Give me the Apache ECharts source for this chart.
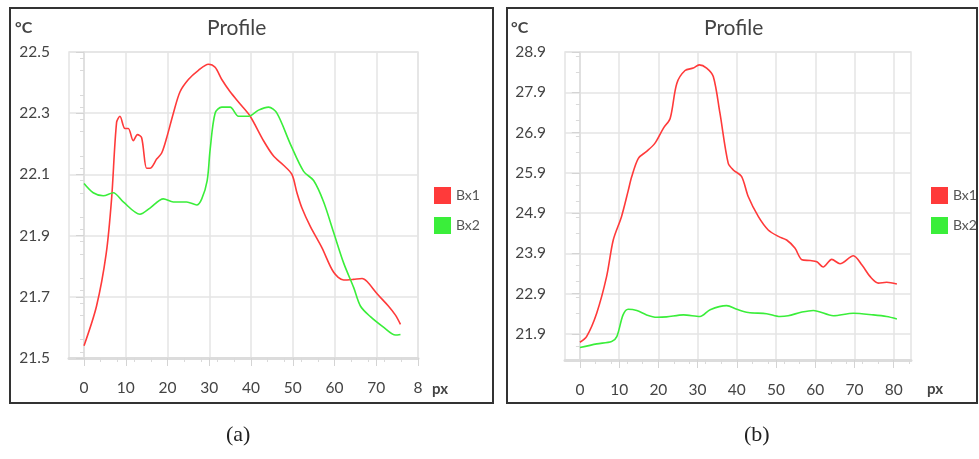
<!DOCTYPE html>
<html>
<head>
<meta charset="utf-8">
<script src="https://cdn.jsdelivr.net/npm/echarts@6/dist/echarts.min.js"></script>
<style>
html, body { margin: 0; background: #fff; }
#main { width: 979px; height: 459px; }
</style>
</head>
<body>
<div id="main"></div>
<script>
// panel (a)
var bx1XA = [0, 3.0, 5.3, 6.6, 7.8, 8.6, 9.8, 10.6, 11.8, 12.8, 13.8, 15.0, 15.8, 17.4, 18.6, 19.8, 21.4, 23.0, 25.0, 27.4, 29.8, 31.4, 33.0, 35.0, 37.4, 39.8, 43.0, 45.4, 47.8, 49.8, 51.0, 52.2, 54.2, 57.0, 59.8, 62.2, 64.5, 66.6, 67.8, 70.2, 72.9, 74.6, 75.8];
var bx1YA = [21.54, 21.67, 21.84, 22.02, 22.27, 22.29, 22.25, 22.25, 22.21, 22.23, 22.22, 22.12, 22.12, 22.15, 22.17, 22.22, 22.30, 22.37, 22.41, 22.44, 22.46, 22.45, 22.41, 22.37, 22.33, 22.29, 22.21, 22.16, 22.13, 22.10, 22.04, 21.99, 21.93, 21.86, 21.78, 21.755, 21.757, 21.76, 21.75, 21.71, 21.67, 21.64, 21.61];
var bx2XA = [0, 2.2, 4.6, 7.0, 9.4, 13.4, 15.8, 19.0, 21.4, 24.6, 27.0, 28.2, 29.5, 30.2, 31.4, 33.0, 35.0, 37.0, 39.4, 41.8, 44.2, 46.2, 49.4, 52.6, 55.0, 57.4, 59.8, 62.2, 64.6, 66.2, 68.6, 71.8, 74.6, 75.8];
var bx2YA = [22.07, 22.04, 22.03, 22.04, 22.01, 21.97, 21.99, 22.02, 22.01, 22.01, 22.00, 22.02, 22.08, 22.18, 22.30, 22.32, 22.32, 22.29, 22.29, 22.31, 22.32, 22.30, 22.20, 22.11, 22.08, 22.01, 21.91, 21.81, 21.73, 21.67, 21.635, 21.60, 21.575, 21.577];
var xTicksA = [0, 10, 20, 30, 40, 50, 60, 70, 80];
var xTickLabelsA = ['0', '10', '20', '30', '40', '50', '60', '70', '8'];
var yTicksA = [21.5, 21.7, 21.9, 22.1, 22.3, 22.5];

// panel (b)
var bx1XB = [0, 1.7, 4.3, 6.8, 8.5, 10.6, 12.3, 13.2, 14.9, 17.0, 19.1, 21.3, 23.0, 24.7, 26.8, 28.9, 30.4, 32.3, 34.0, 35.7, 37.8, 39.1, 41.2, 42.9, 45.5, 48.0, 50.6, 52.7, 54.8, 56.6, 58.7, 60.4, 62.0, 64.2, 66.3, 69.7, 71.9, 74.0, 76.1, 78.2, 80.8];
var bx1YB = [21.69, 21.83, 22.42, 23.32, 24.23, 24.81, 25.45, 25.8, 26.26, 26.43, 26.63, 27.01, 27.25, 28.12, 28.44, 28.50, 28.58, 28.50, 28.29, 27.38, 26.14, 25.97, 25.81, 25.31, 24.81, 24.48, 24.32, 24.23, 24.03, 23.74, 23.72, 23.69, 23.56, 23.75, 23.64, 23.84, 23.61, 23.32, 23.16, 23.18, 23.14];
var bx2XB = [0, 4.3, 8.1, 9.4, 11.0, 12.3, 14.5, 17.0, 19.6, 22.1, 26.4, 30.6, 33.2, 37.4, 40.0, 42.9, 47.6, 51.0, 53.1, 56.6, 59.5, 64.6, 69.7, 74.8, 78.2, 80.8];
var bx2YB = [21.56, 21.65, 21.71, 21.83, 22.37, 22.51, 22.48, 22.37, 22.31, 22.32, 22.37, 22.33, 22.50, 22.60, 22.51, 22.43, 22.40, 22.33, 22.35, 22.44, 22.48, 22.35, 22.41, 22.37, 22.33, 22.27];
var xTicksB = [0, 10, 20, 30, 40, 50, 60, 70, 80];
var xTickLabelsB = ['0', '10', '20', '30', '40', '50', '60', '70', '80'];
var yTicksB = [21.9, 22.9, 23.9, 24.9, 25.9, 26.9, 27.9, 28.9];

var seriesNames = ['Bx1', 'Bx2'];
var colors = ['#ff3a3a', '#3aee3a'];

function pairs(xs, ys) {
	return xs.map(function (x, i) { return [x, ys[i]]; });
}

var font = 'Lato, "Open Sans", sans-serif';
var gridGray = '#e4e4e4';

function xAxis(idx, min, max, ticks, labels) {
	return {
		type: 'value', gridIndex: idx, min: min, max: max,
		axisLine: { show: true, lineStyle: { color: '#dcdcdc', width: 3 } },
		axisTick: { show: true, customValues: ticks, length: 8, lineStyle: { color: '#d4d4d4' } },
		minorTick: { show: true, splitNumber: 5, length: 4, lineStyle: { color: '#dadada' } },
		axisLabel: {
			customValues: ticks, margin: 22, color: '#444', fontSize: 15.5, fontFamily: font,
			formatter: function (v) { return labels[ticks.indexOf(v)]; }
		},
		splitLine: { show: true, lineStyle: { color: gridGray, width: 1.5 } }
	};
}

function yAxis(idx, min, max, ticks) {
	return {
		type: 'value', gridIndex: idx, min: min, max: max,
		axisLine: { show: true, lineStyle: { color: '#e0e0e0', width: 2 } },
		axisTick: { show: true, customValues: ticks, length: 8, lineStyle: { color: '#d4d4d4' } },
		minorTick: { show: true, splitNumber: 5, length: 4, lineStyle: { color: '#dadada' } },
		axisLabel: {
			customValues: ticks, margin: 19, color: '#444', fontSize: 15.5, fontFamily: font,
			formatter: function (v) { return v.toFixed(1); }
		},
		splitLine: { show: true, lineStyle: { color: gridGray, width: 1.5 } }
	};
}

function lineSeries(name, color, xi, data) {
	return {
		name: name, type: 'line', xAxisIndex: xi, yAxisIndex: xi,
		data: data, smooth: 0.3, showSymbol: false,
		lineStyle: { color: color, width: 1.6 },
		itemStyle: { color: color }
	};
}

function legend(left) {
	return {
		data: seriesNames, orient: 'vertical', left: left, top: 182,
		icon: 'rect', itemWidth: 17, itemHeight: 17, itemGap: 13,
		textStyle: { color: '#555', fontSize: 14, fontFamily: font },
		selectedMode: false
	};
}

function text(x, y, s, size, opts) {
	return {
		type: 'text', left: x, top: y,
		style: Object.assign({ text: s, fontSize: size, fontFamily: font, fill: '#444' }, opts || {})
	};
}

var chart = echarts.init(document.getElementById('main'));

var option = {
	backgroundColor: '#ffffff',
	animation: false,
	grid: [
		{ left: 69, top: 52, width: 349, height: 306, show: true, borderColor: gridGray, borderWidth: 1.5 },
		{ left: 565, top: 52, width: 346, height: 308, show: true, borderColor: gridGray, borderWidth: 1.5 }
	],
	xAxis: [
		xAxis(0, -3.6, 80, xTicksA, xTickLabelsA),
		xAxis(1, -3.8, 84.4, xTicksB, xTickLabelsB)
	],
	yAxis: [
		yAxis(0, 21.5, 22.5, yTicksA),
		yAxis(1, 21.25, 28.9, yTicksB)
	],
	legend: [legend(429), legend(926)],
	series: [
		lineSeries(seriesNames[0], colors[0], 0, pairs(bx1XA, bx1YA)),
		lineSeries(seriesNames[1], colors[1], 0, pairs(bx2XA, bx2YA)),
		lineSeries(seriesNames[0], colors[0], 1, pairs(bx1XB, bx1YB)),
		lineSeries(seriesNames[1], colors[1], 1, pairs(bx2XB, bx2YB))
	],
	graphic: [
		{ type: 'rect', shape: { x: 10, y: 8, width: 483, height: 395 }, style: { fill: 'none', stroke: '#333', lineWidth: 2 } },
		{ type: 'rect', shape: { x: 507, y: 8, width: 470, height: 395 }, style: { fill: 'none', stroke: '#333', lineWidth: 2 } },
		text(15, 20, '°C', 16, { fontWeight: 'bold' }),
		text(511, 20, '°C', 16, { fontWeight: 'bold' }),
		text(207, 18, 'Profile', 21),
		text(704, 18, 'Profile', 21),
		text(432, 382, 'px', 15, { fontWeight: 'bold' }),
		text(927, 382, 'px', 15, { fontWeight: 'bold' }),
		text(226, 424, '(a)', 22, { fontFamily: '"Liberation Serif", "DejaVu Serif", serif', fill: '#222' }),
		text(744, 424, '(b)', 22, { fontFamily: '"Liberation Serif", "DejaVu Serif", serif', fill: '#222' })
	]
};

chart.setOption(option);
</script>
</body>
</html>
